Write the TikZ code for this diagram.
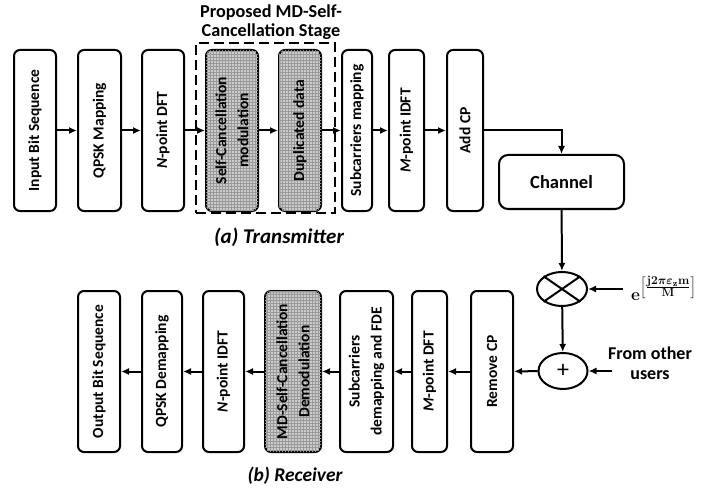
\documentclass[tikz,border=0pt]{standalone}
\usepackage{amsmath}
\usepackage[no-math]{fontspec}
\setmainfont{Carlito}
\usetikzlibrary{patterns,arrows.meta,shapes.geometric}
\newsavebox{\myexpbox}
\begin{document}
\sbox{\myexpbox}{\fontsize{18}{22}\selectfont\boldmath$\mathbf{e}^{\left[\frac{\scriptstyle\mathbf{j2}\pi\varepsilon_{\mathbf{z}}\mathbf{m}}{\scriptstyle\mathbf{M}}\right]}$}%
\begin{tikzpicture}[x=1pt,y=-1pt,
  box/.style={draw, line width=2pt, rounded corners=6pt, rotate=90, inner sep=0pt, align=center,
    minimum width=161pt, font=\bfseries\fontsize{15.5}{22}\selectfont},
  shaded/.style={box, fill=black!20, postaction={pattern=grid, pattern color=black!40}},
  conn/.style={line width=2pt, -{Latex[length=8pt,width=7pt]}},
  sumnode/.style={draw, ellipse, line width=2pt, inner sep=0pt}
]
\useasboundingbox (0,0) rectangle (701,489);

% dashed stage frame
\node[draw, line width=2.4pt, dash pattern=on 10pt off 5pt, minimum width=139pt, minimum height=170pt, inner sep=0pt] (stage) at (265.5,128) {};
\node[font=\bfseries\fontsize{18.2}{19}\selectfont, align=center] (ttl) at (271,22) {Proposed MD-Self-\\Cancellation Stage};

% transmitter
\node[box, minimum height=42pt] (in) at (35,130.5) {Input Bit Sequence};
\node[box, minimum height=43pt] (qpsk) at (99.5,130.5) {QPSK Mapping};
\node[box, minimum height=42pt] (ndft) at (163,130.5) {\textit{N}-point DFT};
\node[shaded, minimum height=52pt] (scm) at (232,130.5) {Self-Cancellation\\modulation};
\node[shaded, minimum height=42pt] (dup) at (300,130.5) {Duplicated data};
\node[box, minimum height=30pt] (scmap) at (357,130.5) {Subcarriers mapping};
\node[box, minimum height=35pt] (midft) at (406.5,130.5) {\textit{M}-point IDFT};
\node[box, minimum height=36pt] (addcp) at (465,130.5) {Add CP};
\node[font=\bfseries\itshape\fontsize{21}{24}\selectfont] (txl) at (279,237) {(a) Transmitter};

\node[draw, line width=2pt, rounded corners=9pt, minimum width=125pt, minimum height=54pt, font=\bfseries\fontsize{18.5}{20}\selectfont] (channel) at (561.5,182) {Channel};

\node[sumnode, minimum width=50pt, minimum height=34pt] (mult) at (562,289) {};
\draw[line width=2pt] (mult.north west) -- (mult.south east);
\draw[line width=2pt] (mult.north east) -- (mult.south west);
\node[inner sep=0pt, anchor=west] (explbl) at (631,288) {\usebox{\myexpbox}};
\coordinate (expin) at (623,289);

\node[sumnode, minimum width=49pt, minimum height=36pt, font=\fontsize{24}{24}\selectfont] (plus) at (563,371) {+};
\node[font=\bfseries\fontsize{18}{20}\selectfont, align=center] (oth) at (650,363) {From other\\users};
\coordinate (othin) at (612,371);

% receiver
\node[box, minimum height=42pt] (rmcp) at (492,371.5) {Remove CP};
\node[box, minimum height=35pt] (mdft) at (429.5,371.5) {\textit{M}-point DFT};
\node[box, minimum height=53pt] (scdemap) at (366.5,371.5) {Subcarriers\\demapping and FDE};
\node[shaded, minimum height=56pt] (mddemod) at (293,371.5) {MD-Self-Cancellation\\Demodulation};
\node[box, minimum height=41pt] (nidft) at (223.5,371.5) {\textit{N}-point IDFT};
\node[box, minimum height=40pt] (qpskd) at (162,371.5) {QPSK Demapping};
\node[box, minimum height=42pt] (out) at (99,371.5) {Output Bit Sequence};
\node[font=\bfseries\itshape\fontsize{19.5}{24}\selectfont] (rxl) at (295,476) {(b) Receiver};

% connectors
\draw[conn] (in) -- (qpsk);
\draw[conn] (qpsk) -- (ndft);
\draw[conn] (ndft) -- (scm);
\draw[conn] (scm) -- (dup);
\draw[conn] (dup) -- (scmap);
\draw[conn] (scmap) -- (midft);
\draw[conn] (midft) -- (addcp);
\draw[conn] (addcp) -| (channel);
\draw[conn] (channel) -- (mult);
\draw[conn] (expin) -- (mult);
\draw[conn] (mult) -- (plus);
\draw[conn] (othin) -- (plus);
\draw[conn] (plus) -- (rmcp);
\draw[conn] (rmcp) -- (mdft);
\draw[conn] (mdft) -- (scdemap);
\draw[conn] (scdemap) -- (mddemod);
\draw[conn] (mddemod) -- (nidft);
\draw[conn] (nidft) -- (qpskd);
\draw[conn] (qpskd) -- (out);
\end{tikzpicture}
\end{document}
